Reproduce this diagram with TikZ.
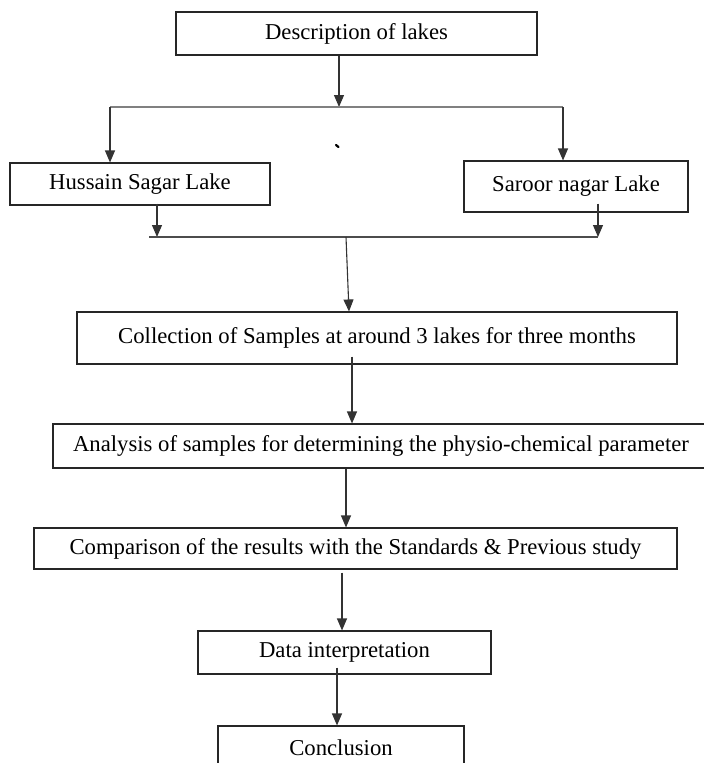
\documentclass[tikz,border=0pt]{standalone}
\usepackage{fontspec}
\setmainfont{Liberation Serif}
\usetikzlibrary{arrows.meta}
\begin{document}
\begin{tikzpicture}[x=1pt,y=-1pt,
  box/.style={draw=black!85,line width=1.1pt,inner sep=0pt,
    font=\fontsize{22.7}{27}\selectfont},
  arr/.style={draw=black!80,line width=1.1pt,-{Triangle[length=12pt,width=10pt]}},
  conn/.style={draw=black!50,line width=1.8pt},
  conn2/.style={draw=black!70,line width=1.3pt}]
\useasboundingbox (0,0) rectangle (704,763);
\clip (0,0) rectangle (704,763);
\node[box,minimum width=361pt,minimum height=43pt] (b1) at (356.5,33.5) {Description of lakes};
\node[box,minimum width=260pt,minimum height=42pt] (hus) at (140,184) {Hussain Sagar Lake};
\node[box,minimum width=224pt,minimum height=51pt] (sar) at (576,186.5) {Saroor nagar Lake};
\node[box,minimum width=600pt,minimum height=52pt] (col) at (377,338) {Collection of Samples at around 3 lakes for three months};
\node[box,minimum width=656pt,minimum height=44pt] (ana) at (381,446) {Analysis of samples for determining the physio-chemical parameter};
\node[box,minimum width=643pt,minimum height=41pt] (cmp) at (355.5,548.5) {Comparison of the results with the Standards \& Previous study};
\node[box,minimum width=293pt,minimum height=43pt] (dat) at (344.5,652.5) {Data interpretation};
\node[box,minimum width=246pt,minimum height=43pt] (con) at (341,747.5) {Conclusion};
% junctions
\coordinate (j1) at (339,107);
\coordinate (jl) at (110,107);
\coordinate (jr) at (563,107);
\coordinate (kl) at (149,237);
\coordinate (kr) at (598,237);
\coordinate (hx) at (157,237);
\coordinate (k) at (346,237);
\coordinate (kt) at (349,0);
\coordinate (c1) at (352,0);
\coordinate (c2) at (346,0);
\coordinate (c3) at (342,0);
\coordinate (c4) at (337,0);
% top split
\draw[arr] (b1.south -| j1) -- (j1);
\draw[conn] (jl) -- (jr);
\draw[arr] (jl) -- (jl |- hus.north);
\draw[arr] (jr) -- (jr |- sar.north);
% stray mark
\draw[line width=2.2pt,line cap=round] (336,145) -- (338.5,147);
% merge
\draw[arr] ([yshift=2pt]hus.south -| hx) -- (hx);
\draw[arr] ([yshift=9pt]sar.south -| kr) -- (kr);
\draw[conn2] (kl) -- (kr);
\draw[arr] (k) -- (kt |- col.north);
% chain
\draw[arr] ([yshift=8pt]col.south -| c1) -- (c1 |- ana.north);
\draw[arr] (ana.south -| c2) -- (c2 |- cmp.north);
\draw[arr] ([yshift=-3pt]cmp.south -| c3) -- (c3 |- dat.north);
\draw[arr] ([yshift=7pt]dat.south -| c4) -- (c4 |- con.north);
\end{tikzpicture}
\end{document}
